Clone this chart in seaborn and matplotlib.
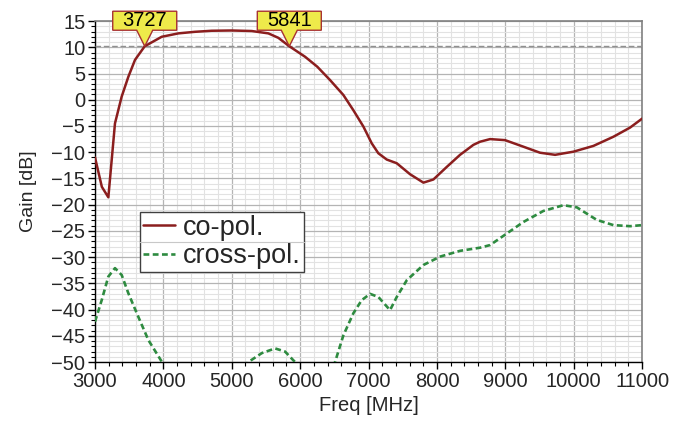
import numpy as np
import pandas as pd
import matplotlib
matplotlib.use("Agg")
import matplotlib.pyplot as plt
import matplotlib.transforms as mtransforms
from matplotlib.patches import Polygon
from matplotlib.lines import Line2D
import seaborn as sns
from matplotlib.ticker import MultipleLocator

# Co-polar gain vs frequency
freq_co = [3000, 3100, 3195, 3292, 3390, 3488, 3585, 3727, 3975, 4219, 4462, 4706,
           4999, 5292, 5535, 5681, 5841, 6071, 6250, 6437, 6632, 6778, 6924, 7046,
           7143, 7266, 7412, 7607, 7802, 7948, 8144, 8338, 8533, 8631, 8777, 8996, 9264,
           9508, 9728, 9996, 10288, 10581, 10825, 11000]
gain_co = [-11.0, -16.6, -18.6, -4.5, 0.6, 4.4, 7.6, 10.2, 12.0, 12.65, 12.95, 13.15,
           13.2, 13.1, 12.65, 11.8, 10.2, 8.2, 6.3, 3.75, 0.9, -2.0, -5.1, -8.3,
           -10.2, -11.4, -12.1, -14.2, -15.8, -15.2, -12.8, -10.5, -8.6, -8.0, -7.5, -7.7, -8.95,
           -10.1, -10.5, -9.9, -8.8, -7.05, -5.3, -3.6]

# Cross-polar gain vs frequency
freq_x = [3000, 3098, 3195, 3292, 3390, 3488, 3634, 3780, 3975, 4300, 4700, 5000,
          5242, 5438, 5633, 5779, 5925, 6150, 6350, 6510, 6632, 6778, 6900, 7022,
          7144, 7314, 7412, 7559, 7802, 8046, 8338, 8631, 8777, 9021, 9264, 9556,
          9849, 10044, 10337, 10581, 10825, 11000]
gain_x = [-42.3, -38.2, -33.7, -32.1, -33.4, -36.9, -41.4, -45.8, -49.9, -55.0, -56.0, -53.0,
          -50.0, -48.3, -47.4, -48.0, -50.0, -54.0, -54.0, -50.0, -44.9, -40.7, -38.2, -37.0,
          -37.6, -40.1, -37.6, -34.4, -31.5, -29.9, -28.8, -28.2, -27.7, -25.5, -23.3, -21.2,
          -20.1, -20.5, -22.9, -23.9, -24.1, -23.9]

# -3 dB band edge markers
marker_freqs = [3727, 5841]
marker_level = 10.2

series_names = ["co-pol.", "cross-pol."]
x_ticks = list(range(3000, 11001, 1000))
y_ticks = list(range(-50, 16, 5))

CO_COLOR = "#8b1e1e"
X_COLOR = "#2e8b40"

sns.set_style("white")
plt.rcParams["font.family"] = ["Liberation Sans", "DejaVu Sans"]

fig = plt.figure(figsize=(6.86, 4.21), dpi=100)
ax = fig.add_axes([0.1385, 0.140, 0.7975, 0.810])

df_co = pd.DataFrame({"Freq": freq_co, "Gain": gain_co})
df_x = pd.DataFrame({"Freq": freq_x, "Gain": gain_x})

sns.lineplot(data=df_co, x="Freq", y="Gain", ax=ax, color=CO_COLOR, lw=1.8,
             label=series_names[0], zorder=4)
sns.lineplot(data=df_x, x="Freq", y="Gain", ax=ax, color=X_COLOR, lw=1.9,
             linestyle=(0, (2.2, 1.3)), label=series_names[1], zorder=4)

ax.set_xlim(3000, 11000)
ax.set_ylim(-50, 15)
ax.set_xticks(x_ticks)
ax.set_yticks(y_ticks)
ax.xaxis.set_minor_locator(MultipleLocator(200))
ax.yaxis.set_minor_locator(MultipleLocator(1))

ax.grid(which="major", color="#b4b4b4", lw=0.9, zorder=0)
ax.grid(which="minor", color="#e2e2e2", lw=0.8, zorder=0)
ax.set_axisbelow(True)

ax.tick_params(axis="both", which="major", direction="out", length=5, width=1,
               labelsize=14.5, color="black", pad=2)
ax.tick_params(axis="both", which="minor", direction="out", length=3, width=0.8,
               color="black")
ax.tick_params(axis="x", which="both", bottom=True, top=False)
ax.tick_params(axis="y", which="both", left=True, right=False)

for side in ["left", "bottom"]:
    ax.spines[side].set_color("black")
    ax.spines[side].set_linewidth(1.0)
for side in ["top", "right"]:
    ax.spines[side].set_color("#808080")
    ax.spines[side].set_linewidth(1.2)

ax.set_xlabel("Freq [MHz]", fontsize=14.5, labelpad=4)
ax.set_ylabel("Gain [dB]", fontsize=14, labelpad=10)

# -3 dB reference line
ax.axhline(marker_level, color="#909090", lw=1.0, ls=(0, (4, 2)), zorder=3)

# band edge callouts: a yellow tag with a pointer down to the curve (sizes in pixels)
tag_shape = [(0, 0), (8, 16), (32, 16), (32, 35), (-32, 35), (-32, 16), (-8, 16)]
for f in marker_freqs:
    anchor = mtransforms.ScaledTranslation(f, marker_level, ax.transData)
    trans = mtransforms.Affine2D() + anchor
    ax.add_patch(Polygon(tag_shape, closed=True, transform=trans, fc="#eeea4a",
                         ec="#a83232", lw=1.0, zorder=6, clip_on=False))
    ax.text(0, 25.5, str(f), transform=trans, ha="center", va="center",
            fontsize=14.5, color="black", zorder=7, clip_on=False)

leg = ax.legend(loc="lower left", bbox_to_anchor=(0.082, 0.264), fontsize=19.5,
                frameon=True, fancybox=False, handlelength=1.2, handletextpad=0.3,
                borderpad=0.1, labelspacing=0.1, borderaxespad=0)
leg.get_frame().set_edgecolor("#404040")
leg.get_frame().set_linewidth(1.0)
leg.get_frame().set_alpha(1.0)

# row divider inside the legend box
fig.canvas.draw()
bb = leg.get_window_extent().transformed(ax.transAxes.inverted())
ymid = (bb.y0 + bb.y1) / 2
ax.add_line(Line2D([bb.x0, bb.x1], [ymid, ymid], transform=ax.transAxes,
                   color="#c8c8c8", lw=0.8, zorder=6))

fig.savefig("out.png", dpi=100)
